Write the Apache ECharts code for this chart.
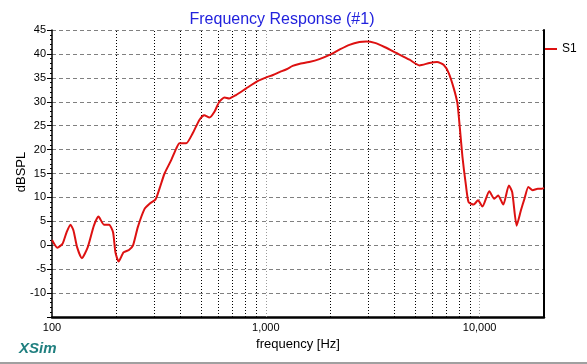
<!DOCTYPE html>
<html><head><meta charset="utf-8">
<script src="https://cdn.jsdelivr.net/npm/echarts@6/dist/echarts.min.js"></script>
<style>html,body{margin:0;padding:0;background:#fff}#c{width:587px;height:364px}</style>
</head><body><div id="c"></div>
<script>
const freqs = [100,106,112,117,122,126,131,138,147,157,165,175,185,193,198,205,216,229,239,252,271,286,305,318,336,361,381,395,424,455,489,515,545,575,606,641,674,725,810,915,1005,1080,1160,1250,1335,1430,1595,1780,1985,2210,2460,2740,2950,3235,3610,4080,4700,5230,5830,6320,6800,7170,7570,7870,8070,8310,8630,8880,9370,9830,10300,11100,11700,12200,12900,13700,14200,14900,15600,16200,16900,17700,18700,19500,20000];
const s1 = [1.1,-0.5,0.3,2.7,4.3,3.1,-0.4,-2.7,-0.4,4.1,6.0,4.3,4.3,2.7,-1.5,-3.4,-1.5,-1.0,-0.1,3.8,7.6,8.7,9.6,11.8,15.0,17.8,20.2,21.3,21.3,23.4,26.2,27.2,26.7,27.9,30.0,30.9,30.7,31.4,32.8,34.3,35.1,35.6,36.2,36.8,37.5,37.9,38.3,38.9,39.8,40.9,41.9,42.5,42.6,42.3,41.4,40.2,38.8,37.6,38.1,38.3,37.7,36.0,32.8,29.7,24.8,18.5,12.5,9.0,8.5,9.4,8.1,11.3,9.7,10.4,8.5,12.5,11.1,4.1,7.3,9.7,12.2,11.5,11.8,11.8,12.0];
const minorGrid = [200,300,400,500,600,700,800,900,2000,3000,4000,5000,6000,7000,8000,9000];
const decadeGrid = [1000,10000];
const xTickLabels = [100,1000,10000];
const yTicks = [-10,-5,0,5,10,15,20,25,30,35,40,45];

const chart = echarts.init(document.getElementById('c'));
const fontFam = 'Liberation Sans, Arial, sans-serif';
chart.setOption({
  animation:false,
  title:{text:'Frequency Response (#1)',left:277,textAlign:'center',top:7,
    textStyle:{color:'#2222dd',fontSize:16,fontWeight:'normal',fontFamily:fontFam}},
  legend:{data:['S1'],left:540,top:38,icon:'rect',itemWidth:12,itemHeight:2,itemGap:4,
    textStyle:{color:'#000',fontSize:12,fontFamily:fontFam,padding:[0,0,0,0]}},
  grid:{left:52,top:30,width:492,height:287},
  xAxis:{type:'log',logBase:10,min:100,max:20000,
    name:'frequency [Hz]',nameLocation:'middle',nameGap:18,
    nameTextStyle:{color:'#000',fontSize:13,fontFamily:fontFam},
    axisLine:{show:true,onZero:false,lineStyle:{color:'#000',width:2.5}},
    axisTick:{show:false},
    splitLine:{show:false},
    axisLabel:{color:'#000',fontSize:11,fontFamily:fontFam,margin:5,showMaxLabel:false,
      formatter:v=>xTickLabels.indexOf(Math.round(v))>=0?Number(Math.round(v)).toLocaleString('en-US'):''}},
  yAxis:[{type:'value',min:-15,max:45,interval:5,
    axisLine:{show:true,onZero:false,lineStyle:{color:'#000',width:1.5}},
    axisTick:{show:true,length:5,lineStyle:{color:'#000'}},
    minorTick:{show:true,splitNumber:5,length:2,lineStyle:{color:'#000'}},
    splitLine:{show:true,lineStyle:{color:'#808080',type:[4,3],width:1}},
    axisLabel:{color:'#000',fontSize:11,fontFamily:fontFam,margin:6,
      formatter:v=>yTicks.indexOf(v)>=0?String(v):''}},
   {type:'value',min:-15,max:45,position:'right',
    axisLine:{show:true,onZero:false,lineStyle:{color:'#000',width:2}},
    axisTick:{show:false},axisLabel:{show:false},splitLine:{show:false}}],
  series:[
    {name:'S1',type:'line',data:freqs.map((f,i)=>[f,s1[i]]),showSymbol:false,smooth:0.2,
     lineStyle:{color:'#dd1111',width:2},itemStyle:{color:'#dd1111'},z:5,
     markLine:{silent:true,symbol:'none',label:{show:false},animation:false,
       data:minorGrid.map(f=>({xAxis:f,lineStyle:{color:'#000',type:[1,2],width:1}}))
        .concat(decadeGrid.map(f=>({xAxis:f,lineStyle:{color:'#999',type:[1,2],width:1}})))}}
  ],
  graphic:[
    {type:'text',x:21,y:172,rotation:Math.PI/2,
     style:{text:'dBSPL',fill:'#000',font:'13px '+fontFam,textAlign:'center',textVerticalAlign:'middle'}},
    {type:'text',left:19,top:341,style:{text:'XSim',fill:'#1f7f7f',font:'italic bold 15px '+fontFam}},
    {type:'rect',shape:{x:0,y:362,width:587,height:2},style:{fill:'#a0a0a0'}}
  ]
});
</script></body></html>
